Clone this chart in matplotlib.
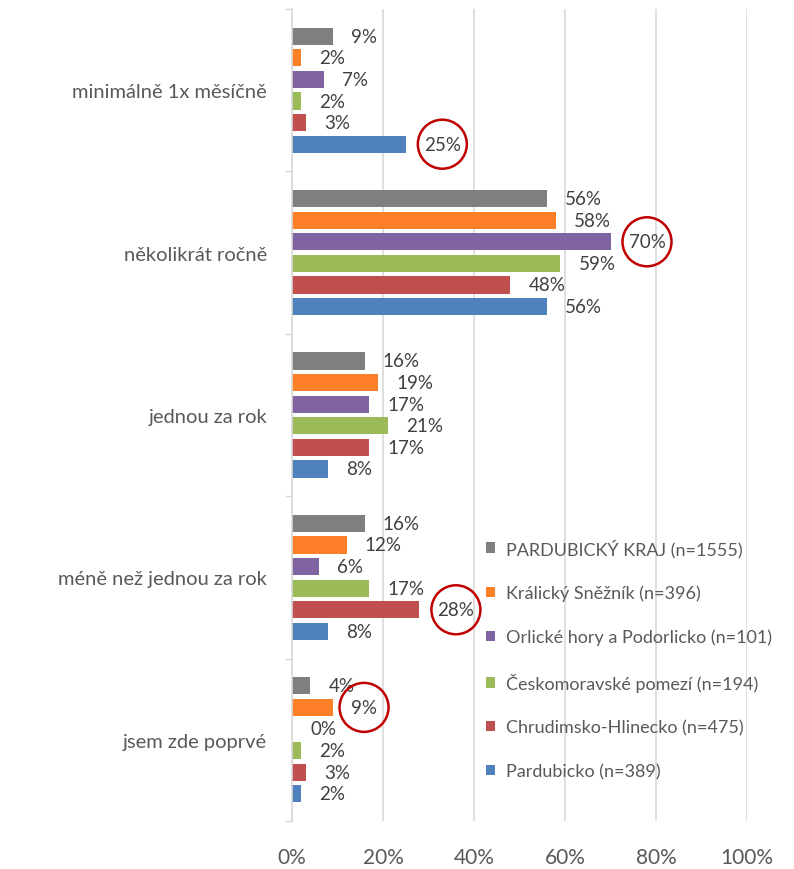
import numpy as np
import matplotlib.pyplot as plt
from matplotlib.patches import Ellipse
from matplotlib.transforms import offset_copy

plt.rcParams['font.family'] = ['Lato', 'DejaVu Sans']

categories = ['minimálně 1x měsíčně', 'několikrát ročně', 'jednou za rok',
              'méně než jednou za rok', 'jsem zde poprvé']
series = ['PARDUBICKÝ KRAJ (n=1555)', 'Králický Sněžník (n=396)',
          'Orlické hory a Podorlicko (n=101)', 'Českomoravské pomezí (n=194)',
          'Chrudimsko-Hlinecko (n=475)', 'Pardubicko (n=389)']
colors = ['#7f7f7f', '#fd7f28', '#8064a2', '#9bbb59', '#c0504d', '#4f81bd']

kraj = [9, 56, 16, 16, 4]
kralicky = [2, 58, 19, 12, 9]
orlicke = [7, 70, 17, 6, 0]
ceskomor = [2, 59, 21, 17, 2]
chrudim = [3, 48, 17, 28, 3]
pardubicko = [25, 56, 8, 8, 2]
values = [kraj, kralicky, orlicke, ceskomor, chrudim, pardubicko]

# (category, series) of labels circled in red
circled = [(0, 5), (1, 2), (3, 4), (4, 1)]

fig = plt.figure(figsize=(7.94, 8.7), dpi=100)
ax = fig.add_axes([0.3678, 0.0552, 0.5730, 0.9333])

y = np.arange(len(categories))
slot = 0.133
bh = 0.105
texts = {}
for j, (name, vals) in enumerate(zip(series, values)):
    pos = y + (j - 2.5) * slot
    ax.barh(pos, vals, height=bh, color=colors[j], label=name, zorder=2)
    tr = offset_copy(ax.transData, fig=fig, x=13, y=0, units='points')
    for i, v in enumerate(vals):
        t = ax.text(v, pos[i], f'{v}%', transform=tr, ha='left', va='center',
                    fontsize=13.5, color='#404040', zorder=3)
        texts[(i, j)] = t

ax.set_xlim(0, 100)
ax.set_ylim(len(categories) - 0.5, -0.5)
ax.set_xticks(np.arange(0, 101, 20))
ax.set_xticklabels([f'{v}%' for v in range(0, 101, 20)])
ax.set_yticks(y)
ax.set_yticklabels(categories)
ax.set_yticks(np.arange(-0.5, len(categories)), minor=True)
ax.tick_params(axis='y', which='major', length=0, pad=18, labelsize=14.5, labelcolor='#595959')
ax.tick_params(axis='y', which='minor', length=5, color='#d9d9d9', width=1)
ax.tick_params(axis='x', length=0, pad=19, labelsize=15, labelcolor='#595959')
ax.grid(axis='x', color='#d9d9d9', linewidth=1.2, zorder=0)
for s in ['top', 'right', 'bottom']:
    ax.spines[s].set_visible(False)
ax.spines['left'].set_color('#d9d9d9')
ax.spines['left'].set_linewidth(1.2)

ax.legend(loc='upper left', bbox_to_anchor=(0.39, 0.368), frameon=False,
          fontsize=13, labelcolor='#595959', handlelength=0.5, handleheight=0.5,
          handletextpad=0.6, labelspacing=1.53)

# red circles around highlighted labels
fig.canvas.draw()
r = fig.canvas.get_renderer()
W, H = fig.bbox.width, fig.bbox.height
for key in circled:
    bb = texts[key].get_window_extent(r)
    cx, cy = (bb.x0 + bb.x1) / 2, (bb.y0 + bb.y1) / 2
    e = Ellipse((cx / W, cy / H), 49 / W, 49 / H, transform=fig.transFigure,
                fill=False, edgecolor='#c00000', linewidth=1.8)
    fig.add_artist(e)

fig.savefig('out.png', dpi=100)
